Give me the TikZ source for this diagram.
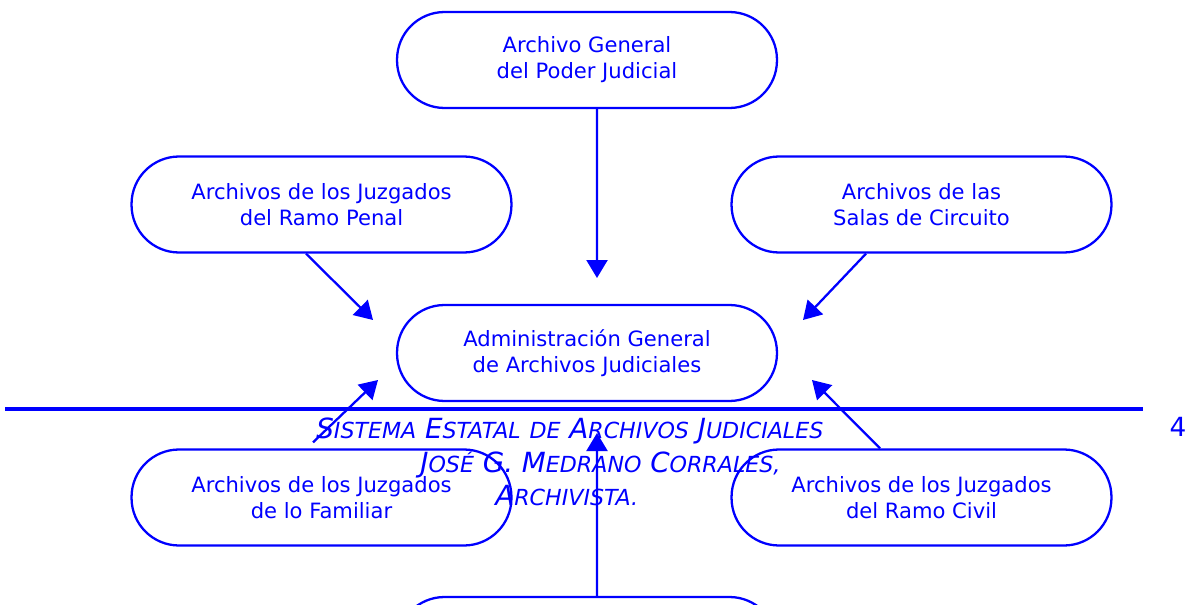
\documentclass[tikz,border=0pt]{standalone}
\usepackage{fontspec}
\setmainfont{DejaVu Sans}
\usetikzlibrary{arrows.meta}
\tikzset{archive/.style={draw=blue, line width=1.3pt, rounded corners=0.95cm, minimum width=7.6cm, minimum height=1.92cm, align=center, text=blue, font=\fontsize{12}{14.7}\selectfont}}
\tikzset{feeds/.style={draw=blue, line width=1.3pt, -{Triangle[length=0.36cm,width=0.42cm]}}}
\tikzset{footer/.style={anchor=base west, text=blue, inner sep=0pt, font=\fontsize{15.8}{18}\selectfont\itshape}}
\newcommand{\fsc}[2]{#1{\fontsize{12.6}{15}\selectfont #2}}

\begin{document}
\begin{tikzpicture}[x=0.02cm, y=-0.02cm]
	\useasboundingbox (0,0) rectangle (1197,605);

	% Archives
	\node[archive] (general) at (587,60) {Archivo General\\del Poder Judicial};
	\node[archive] (penal) at (321.5,204.5) {Archivos de los Juzgados\\del Ramo Penal};	\node[archive] (salas) at (921.5,204.5) {Archivos de las\\Salas de Circuito};
	\node[archive] (admin) at (587,353) {Administración General\\de Archivos Judiciales};
	\node[archive] (familiar) at (321.5,497.5) {Archivos de los Juzgados\\de lo Familiar};	\node[archive] (civil) at (921.5,497.5) {Archivos de los Juzgados\\del Ramo Civil};
	\node[archive] (bottom) at (587,645) {};

	% Arrow tips
	\coordinate (generaltip) at (597,278);
	\coordinate (penaltip) at (373,320);	\coordinate (salastip) at (803,320);
	\coordinate (familiartip) at (378,380);	\coordinate (civiltip) at (812,380);
	\coordinate (bottomtip) at (597,433);

	% Arrows
	\draw[feeds] ([xshift=0.2cm]general.south) -- (generaltip);
	\draw[feeds] ([xshift=-0.31cm]penal.south) -- (penaltip);
	\draw[feeds] ([xshift=-1.11cm]salas.south) -- (salastip);
	\draw[feeds] ([xshift=-0.17cm,yshift=0.12cm]familiar.north) -- (familiartip);
	\draw[feeds] ([xshift=-0.83cm]civil.north) -- (civiltip);
	\draw[feeds] ([xshift=0.2cm]bottom.north) -- (bottomtip);

	% Page footer
	\draw[blue, line width=2.2pt] (5,409) -- (1143,409);
	\node[text=blue, font=\fontsize{15}{17}\selectfont] (page) at (1178,427) {4};
	\node[footer] (title) at (316,438) {\fsc{S}{ISTEMA} \fsc{E}{STATAL} \fsc{}{DE} \fsc{A}{RCHIVOS} \fsc{J}{UDICIALES}};
	\node[footer] (author) at (420,472) {\fsc{J}{OSÉ} G. \fsc{M}{EDRANO} \fsc{C}{ORRALES,}};
	\node[footer] (role) at (495,505) {\fsc{A}{RCHIVISTA.}};
\end{tikzpicture}
\end{document}
